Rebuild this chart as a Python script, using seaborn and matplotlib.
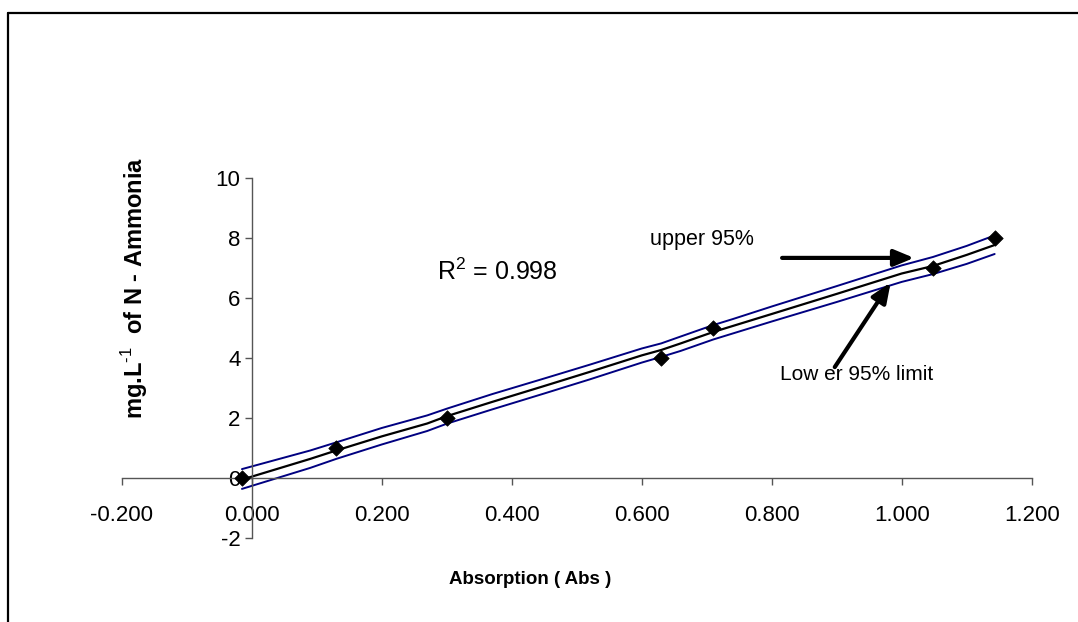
import matplotlib
matplotlib.use("Agg")
import matplotlib.pyplot as plt
import matplotlib.lines as mlines
import seaborn as sns
import pandas as pd

# ---- data ----
abs_points = [-0.015, 0.130, 0.301, 0.630, 0.710, 1.048, 1.143]
conc_points = [0, 1, 2, 4, 5, 7, 8]

line_x = [-0.015, 0.09, 0.130, 0.20, 0.27, 0.301, 0.37, 0.45, 0.52, 0.60,
          0.630, 0.66, 0.710, 0.74, 0.80, 0.90, 1.00, 1.048, 1.10, 1.143]
fit_y = [-0.07, 0.62, 0.90, 1.37, 1.80, 2.05, 2.52, 3.05, 3.52, 4.07,
         4.25, 4.47, 4.85, 5.05, 5.45, 6.12, 6.80, 7.05, 7.42, 7.75]
upper_y = [0.28, 0.90, 1.17, 1.65, 2.07, 2.30, 2.78, 3.30, 3.76, 4.30,
           4.47, 4.70, 5.08, 5.28, 5.70, 6.38, 7.07, 7.35, 7.72, 8.07]
lower_y = [-0.38, 0.32, 0.62, 1.10, 1.55, 1.80, 2.27, 2.80, 3.27, 3.83,
           4.02, 4.22, 4.60, 4.80, 5.20, 5.85, 6.52, 6.78, 7.12, 7.45]

x_ticks = [-0.2, 0.0, 0.2, 0.4, 0.6, 0.8, 1.0, 1.2]
y_ticks = [-2, 0, 2, 4, 6, 8, 10]
r2_text = "R$^2$ = 0.998"
upper_label = "upper 95%"
lower_label = "Low er 95% limit"
x_title = "Absorption ( Abs )"
y_title = r"mg.L$^{\mathbf{\text{-1}}}$  of N - Ammonia"

sns.set_style("white")
plt.rcParams["font.family"] = ["Liberation Sans", "DejaVu Sans"]
plt.rcParams["mathtext.fontset"] = "custom"
plt.rcParams["mathtext.rm"] = "Liberation Sans"
plt.rcParams["mathtext.bf"] = "Liberation Sans:bold"
plt.rcParams["text.color"] = "black"

fig = plt.figure(figsize=(10.78, 6.22), dpi=100)
W, H = 1078, 622
ax = fig.add_axes([121.7 / W, 1 - 537.5 / H, 910 / W, 360 / H])

df_lines = pd.DataFrame({"x": line_x, "fit": fit_y, "up": upper_y, "lo": lower_y})
df_pts = pd.DataFrame({"x": abs_points, "y": conc_points})

sns.lineplot(data=df_lines, x="x", y="up", ax=ax, sort=False, estimator=None,
             color="#000080", linewidth=1.4)
sns.lineplot(data=df_lines, x="x", y="lo", ax=ax, sort=False, estimator=None,
             color="#000080", linewidth=1.4)
sns.lineplot(data=df_lines, x="x", y="fit", ax=ax, sort=False, estimator=None,
             color="black", linewidth=1.6)
sns.scatterplot(data=df_pts, x="x", y="y", ax=ax, marker="D", s=62,
                color="black", edgecolor="black", linewidth=0.5, zorder=5)

ax.set_xlim(-0.2, 1.2)
ax.set_ylim(-2, 10)
ax.set_xticks(x_ticks)
ax.set_xticklabels([f"{v:.3f}" for v in x_ticks])
ax.set_yticks(y_ticks)
ax.set_yticklabels([str(v) for v in y_ticks])
ax.set_xlabel("")
ax.set_ylabel("")

for s in ["top", "right"]:
    ax.spines[s].set_visible(False)
ax.spines["left"].set_position(("data", 0))
ax.spines["bottom"].set_position(("data", 0))
for s in ["left", "bottom"]:
    ax.spines[s].set_color("#555555")
    ax.spines[s].set_linewidth(1.0)
ax.tick_params(axis="both", direction="out", length=5, width=1.0,
               color="#555555", labelsize=16, labelcolor="black")
ax.tick_params(axis="x", pad=15, bottom=True)
ax.tick_params(axis="y", pad=3, left=True)
ax.patch.set_alpha(0)

# annotations
ax.text(0.285, 6.85, r2_text, fontsize=18, ha="left", va="center", color="black")
ax.text(0.613, 7.95, upper_label, fontsize=15.5, ha="left", va="center", color="black")
ax.text(0.813, 3.45, lower_label, fontsize=15, ha="left", va="center", color="black")
ax.annotate("", xy=(1.019, 7.32), xytext=(0.816, 7.32),
            arrowprops=dict(arrowstyle="-|>,head_length=1.2,head_width=0.5",
                            color="black", lw=3, shrinkA=0, shrinkB=0))
ax.annotate("", xy=(0.983, 6.5), xytext=(0.897, 3.68),
            arrowprops=dict(arrowstyle="-|>,head_length=1.2,head_width=0.5",
                            color="black", lw=3, shrinkA=0, shrinkB=0))

# axis titles
fig.text(530 / W, 1 - 579 / H, x_title, fontsize=13.5, fontweight="bold",
         ha="center", va="center", color="black")
fig.text(135 / W, 1 - 288 / H, y_title, fontsize=17, fontweight="bold",
         ha="center", va="center", rotation=90, color="black")

# chart border (top and left edges visible)
fig.add_artist(mlines.Line2D([8 / W, 1.0], [1 - 13 / H, 1 - 13 / H],
                             transform=fig.transFigure, color="black", lw=1.6))
fig.add_artist(mlines.Line2D([8 / W, 8 / W], [1 - 13 / H, 0.0],
                             transform=fig.transFigure, color="black", lw=1.6))

fig.savefig("out.png", dpi=100)
